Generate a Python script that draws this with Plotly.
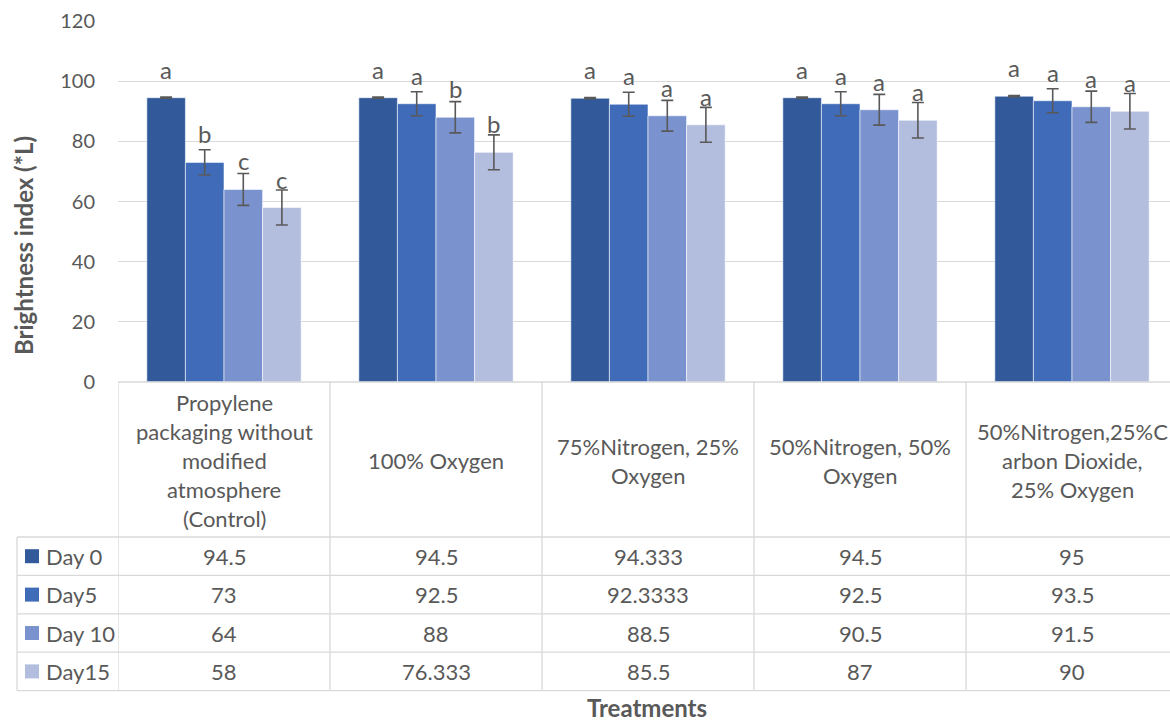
import plotly.graph_objects as go

# ---- data -------------------------------------------------------------
treatments = [
    "Propylene\npackaging without\nmodified\natmosphere\n(Control)",
    "100% Oxygen",
    "75%Nitrogen, 25%\nOxygen",
    "50%Nitrogen, 50%\nOxygen",
    "50%Nitrogen,25%C\narbon Dioxide,\n25% Oxygen",
]
series_names = ["Day 0", "Day5", "Day 10", "Day15"]

day0 = [94.5, 94.5, 94.333, 94.5, 95]
day5 = [73, 92.5, 92.3333, 92.5, 93.5]
day10 = [64, 88, 88.5, 90.5, 91.5]
day15 = [58, 76.333, 85.5, 87, 90]

err_day0 = [0.2, 0.2, 0.2, 0.2, 0.2]
err_day5 = [4.2, 4.0, 4.0, 4.0, 4.0]
err_day10 = [5.3, 5.2, 5.1, 5.1, 5.2]
err_day15 = [5.8, 5.8, 5.8, 5.9, 5.9]

letters_day0 = ["a", "a", "a", "a", "a"]
letters_day5 = ["b", "a", "a", "a", "a"]
letters_day10 = ["c", "b", "a", "a", "a"]
letters_day15 = ["c", "b", "a", "a", "a"]

series_values = [day0, day5, day10, day15]
series_errors = [err_day0, err_day5, err_day10, err_day15]
series_letters = [letters_day0, letters_day5, letters_day10, letters_day15]

# ---- styling ----------------------------------------------------------
colors = ["#325A9A", "#3F6BB8", "#7A92CE", "#B3BEDF"]
FONT = "Lato"
TXT = "#595959"
GRID = "#D9D9D9"
TABLE_FS = 22

W, H = 1170, 721
M_L, M_R, M_T, M_B = 118, 0, 21, 339
PLOT_W = W - M_L - M_R
PLOT_H = H - M_T - M_B
PLOT_BOTTOM = H - M_B          # pixel row of the value axis zero
CAT_PX = 212                   # pixel width of one treatment column
BARGAP = 0.272
x_max = -0.5 + PLOT_W / CAT_PX

def paper_y(py):
    return (PLOT_BOTTOM - py) / PLOT_H

def paper_x(px):
    return (px - M_L) / PLOT_W

cat_keys = [t.replace("\n", " ") for t in treatments]

fig = go.Figure()
for name, vals, errs, col in zip(series_names, series_values, series_errors, colors):
    fig.add_trace(go.Bar(
        name=name, x=cat_keys, y=vals,
        marker=dict(color=col, line=dict(color="rgba(255,255,255,0.7)", width=0.8)),
        error_y=dict(type="data", array=errs, visible=True,
                     color="#595959", thickness=1.6, width=6),
        hoverinfo="skip",
    ))

annotations = []
shapes = []

# significance letters above each bar
bar_w = (1 - BARGAP) / len(series_names)
for j, (vals, lets) in enumerate(zip(series_values, series_letters)):
    for i, (v, t) in enumerate(zip(vals, lets)):
        annotations.append(dict(
            x=i + (j - (len(series_names) - 1) / 2) * bar_w, y=v,
            xref="x", yref="y", text=t, showarrow=False,
            yanchor="bottom", yshift=12,
            font=dict(family=FONT, size=24, color=TXT),
        ))

# ---- data table under the plot ---------------------------------------
HEADER_BOTTOM = 537
ROW_H = 38.4
row_edges = [HEADER_BOTTOM + k * ROW_H for k in range(len(series_names) + 1)]
TABLE_LEFT = 17
line_style = dict(color=GRID, width=1.3)

# top rule along the axis and horizontal row rules
shapes.append(dict(type="line", xref="paper", yref="paper",
                   x0=0, x1=1, y0=0, y1=0, line=line_style))
for py in row_edges:
    shapes.append(dict(type="line", xref="paper", yref="paper",
                       x0=paper_x(TABLE_LEFT), x1=1,
                       y0=paper_y(py), y1=paper_y(py), line=line_style))
# vertical rules
shapes.append(dict(type="line", xref="paper", yref="paper",
                   x0=paper_x(TABLE_LEFT), x1=paper_x(TABLE_LEFT),
                   y0=paper_y(row_edges[0]), y1=paper_y(row_edges[-1]), line=line_style))
for i in range(len(treatments) + 1):
    shapes.append(dict(type="line", xref="x", yref="paper",
                       x0=i - 0.5, x1=i - 0.5,
                       y0=0, y1=paper_y(row_edges[-1]), line=line_style))

# header cells: one annotation per wrapped line
HEADER_LINE = 29
header_mid = (PLOT_BOTTOM + HEADER_BOTTOM) / 2 + 1
for i, label in enumerate(treatments):
    lines = label.split("\n")
    for k, ln in enumerate(lines):
        py = header_mid + (k - (len(lines) - 1) / 2) * HEADER_LINE
        annotations.append(dict(
            x=i, y=paper_y(py), xref="x", yref="paper", text=ln,
            showarrow=False, xanchor="center", yanchor="middle",
            font=dict(family=FONT, size=TABLE_FS, color=TXT),
        ))

# body rows: legend key + values
for r, (name, vals, col) in enumerate(zip(series_names, series_values, colors)):
    cy = (row_edges[r] + row_edges[r + 1]) / 2
    shapes.append(dict(type="rect", xref="paper", yref="paper",
                       x0=paper_x(25), x1=paper_x(39),
                       y0=paper_y(cy - 7), y1=paper_y(cy + 7),
                       fillcolor=col, line=dict(width=0)))
    annotations.append(dict(
        x=paper_x(44), y=paper_y(cy), xref="paper", yref="paper", text=name,
        showarrow=False, xanchor="left", yanchor="middle",
        font=dict(family=FONT, size=TABLE_FS, color=TXT),
    ))
    for i, v in enumerate(vals):
        annotations.append(dict(
            x=i, y=paper_y(cy), xref="x", yref="paper", text=f"{v:g}",
            showarrow=False, xanchor="center", yanchor="middle",
            font=dict(family=FONT, size=TABLE_FS, color=TXT),
        ))

# axis titles
annotations.append(dict(
    x=paper_x(23), y=paper_y(246), xref="paper", yref="paper",
    text="<b>Brightness index (*L)</b>", textangle=-90, showarrow=False,
    xanchor="center", yanchor="middle",
    font=dict(family=FONT, size=24, color=TXT),
))
annotations.append(dict(
    x=paper_x(647), y=paper_y(H), xref="paper", yref="paper",
    text="<b>Treatments</b>", showarrow=False,
    xanchor="center", yanchor="bottom", yshift=-3,
    font=dict(family=FONT, size=24, color=TXT),
))

fig.update_layout(
    width=W, height=H,
    margin=dict(l=M_L, r=M_R, t=M_T, b=M_B, pad=0),
    paper_bgcolor="white", plot_bgcolor="white",
    barmode="group", bargap=BARGAP, bargroupgap=0,
    showlegend=False,
    font=dict(family=FONT, color=TXT),
    xaxis=dict(type="category", range=[-0.5, x_max], showticklabels=False,
               showgrid=False, showline=False, zeroline=False, ticks=""),
    yaxis=dict(range=[0, 120], dtick=20, showgrid=True, gridcolor=GRID,
               gridwidth=1.3, zeroline=False, showline=False, ticks="",
               ticklabelstandoff=22,
               tickfont=dict(family=FONT, size=20, color=TXT)),
    annotations=annotations,
    shapes=shapes,
)

fig.write_html("out.html")
